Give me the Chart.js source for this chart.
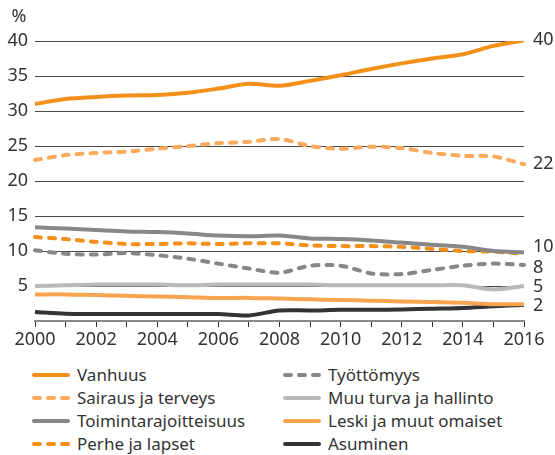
<!DOCTYPE html>
<html>
<head>
<meta charset="utf-8">
<script src="https://cdn.jsdelivr.net/npm/chart.js@4"></script>
<style>
  body { margin: 0; background: #fff; font-family: "Noto Sans", sans-serif; color: #333; }
  #wrap { position: relative; width: 555px; height: 455px; }
  #chart { position: absolute; left: 0; top: 0; }
  .leg { position: absolute; font-size: 17px; line-height: 23px; white-space: nowrap; }
  .leg svg { position: absolute; top: 6px; }
</style>
</head>
<body>
<div id="wrap">
  <canvas id="chart" width="555" height="360"></canvas>
  <div id="legend"></div>
</div>
<script>
const years = ['2000','2001','2002','2003','2004','2005','2006','2007','2008','2009','2010','2011','2012','2013','2014','2015','2016'];

const vanhuus =        [31.0, 31.7, 32.0, 32.2, 32.3, 32.6, 33.2, 33.9, 33.6, 34.3, 35.1, 36.0, 36.8, 37.5, 38.1, 39.3, 40.1];
const sairaus =        [23.0, 23.7, 24.0, 24.2, 24.6, 25.0, 25.4, 25.6, 26.0, 25.0, 24.6, 24.9, 24.7, 24.0, 23.6, 23.5, 22.4];
const toiminta =       [13.4, 13.2, 13.0, 12.8, 12.7, 12.5, 12.2, 12.1, 12.2, 11.8, 11.7, 11.5, 11.2, 10.9, 10.6, 10.0, 9.8];
const perhe =          [12.0, 11.7, 11.3, 11.0, 11.0, 11.1, 11.0, 11.1, 11.1, 10.8, 10.7, 10.7, 10.6, 10.3, 10.0, 9.9, 9.6];
const tyottomyys =     [10.1, 9.6, 9.5, 9.7, 9.4, 8.9, 8.2, 7.5, 6.9, 7.9, 7.9, 6.8, 6.7, 7.3, 7.9, 8.2, 8.0];
const muuTurva =       [5.0, 5.1, 5.2, 5.2, 5.2, 5.1, 5.2, 5.2, 5.2, 5.2, 5.1, 5.1, 5.1, 5.1, 5.1, 4.5, 5.0];
const leski =          [3.8, 3.8, 3.7, 3.6, 3.5, 3.4, 3.3, 3.3, 3.2, 3.1, 3.0, 2.9, 2.8, 2.7, 2.6, 2.4, 2.4];
const asuminen =       [1.3, 1.05, 1.0, 1.0, 1.0, 1.0, 1.0, 0.8, 1.5, 1.5, 1.6, 1.6, 1.65, 1.75, 1.85, 2.1, 2.3];

const endLabels = ['40', '22', '10', '8', '5', '2'];
const endLabelAt = [40.1, 22.4, 10.6, 7.6, 4.9, 2.1];

const FONT = '"Noto Sans", sans-serif';
const dash = [6, 8];

function line(label, data, color, dashed) {
    return {
        label: label,
        data: data,
        borderColor: color,
        backgroundColor: color,
        borderWidth: 4,
        borderDash: dashed ? dash : [],
        borderCapStyle: dashed ? 'round' : 'butt',
        borderJoinStyle: 'round',
        pointRadius: 0,
        tension: 0.3,
        fill: false
    };
}

const datasets = [
    line('Vanhuus', vanhuus, '#f39019', false),
    line('Sairaus ja terveys', sairaus, '#f9aa5c', true),
    line('Toimintarajoitteisuus', toiminta, '#878787', false),
    line('Perhe ja lapset', perhe, '#f39019', true),
    line('Työttömyys', tyottomyys, '#878787', true),
    line('Muu turva ja hallinto', muuTurva, '#b9b9b9', false),
    line('Leski ja muut omaiset', leski, '#f7a34f', false),
    line('Asuminen', asuminen, '#333333', false)
];
// draw order: light ones first
datasets.forEach((d, i) => { d.order = i; });

const extras = {
    id: 'extras',
    afterDraw(chart) {
        const ctx = chart.ctx;
        const y = chart.scales.y;
        const area = chart.chartArea;
        ctx.save();
        ctx.fillStyle = '#333';
        ctx.font = '18px ' + FONT;
        ctx.textBaseline = 'middle';
        ctx.textAlign = 'left';
        endLabels.forEach((t, i) => {
            ctx.fillText(t, area.right + 9, y.getPixelForValue(endLabelAt[i]));
        });
        ctx.textAlign = 'center';
        ctx.fillText('%', 19, 17);
        ctx.restore();
    }
};

const chart = new Chart(document.getElementById('chart').getContext('2d'), {
    type: 'line',
    data: { labels: years, datasets: datasets },
    options: {
        responsive: false,
        animation: false,
        layout: { padding: { top: 41, right: 31, bottom: 4, left: 0 } },
        plugins: { legend: { display: false }, tooltip: { enabled: false } },
        scales: {
            x: {
                grid: { drawOnChartArea: false, drawTicks: true, tickLength: 6, color: '#333', lineWidth: 1 },
                border: { display: true, color: '#8a8a8a', width: 2 },
                ticks: {
                    color: '#333',
                    font: { family: FONT, size: 18 },
                    maxRotation: 0,
                    autoSkip: false,
                    padding: 2,
                    callback: (v, i) => (i % 2 === 0 ? years[i] : '')
                },
                afterFit: s => { s.height = 35; }
            },
            y: {
                min: 0,
                max: 40,
                grid: {
                    drawTicks: false,
                    color: c => (c.tick.value === 0 ? 'rgba(0,0,0,0)' : '#4a4a4a'),
                    lineWidth: 1
                },
                border: { display: false },
                ticks: {
                    stepSize: 5,
                    color: '#333',
                    padding: 7,
                    font: { family: FONT, size: 18 },
                    callback: v => (v === 0 ? '' : v)
                },
                afterFit: s => { s.width = 35; }
            }
        }
    },
    plugins: [extras]
});

// legend in two columns
const legendCols = [[0, 1, 2, 3], [4, 5, 6, 7]];
const colX = [[32, 77], [283, 328]];
const legendTop = 363;
const legendRow = 23;
let html = '';
legendCols.forEach((col, c) => {
    col.forEach((di, r) => {
        const d = datasets[di];
        const top = legendTop + r * legendRow;
        const dasharray = d.borderDash.length ? 'stroke-dasharray="' + d.borderDash.join(' ') + '"' : '';
        html += '<div class="leg" style="left:' + colX[c][0] + 'px;top:' + top + 'px;padding-left:' + (colX[c][1] - colX[c][0]) + 'px">' +
            '<svg width="40" height="12" style="left:0"><line x1="2" y1="6" x2="36" y2="6" stroke="' + d.borderColor +
            '" stroke-width="4" stroke-linecap="round" ' + dasharray + '/></svg>' + d.label + '</div>';
    });
});
document.getElementById('legend').innerHTML = html;
</script>
</body>
</html>
